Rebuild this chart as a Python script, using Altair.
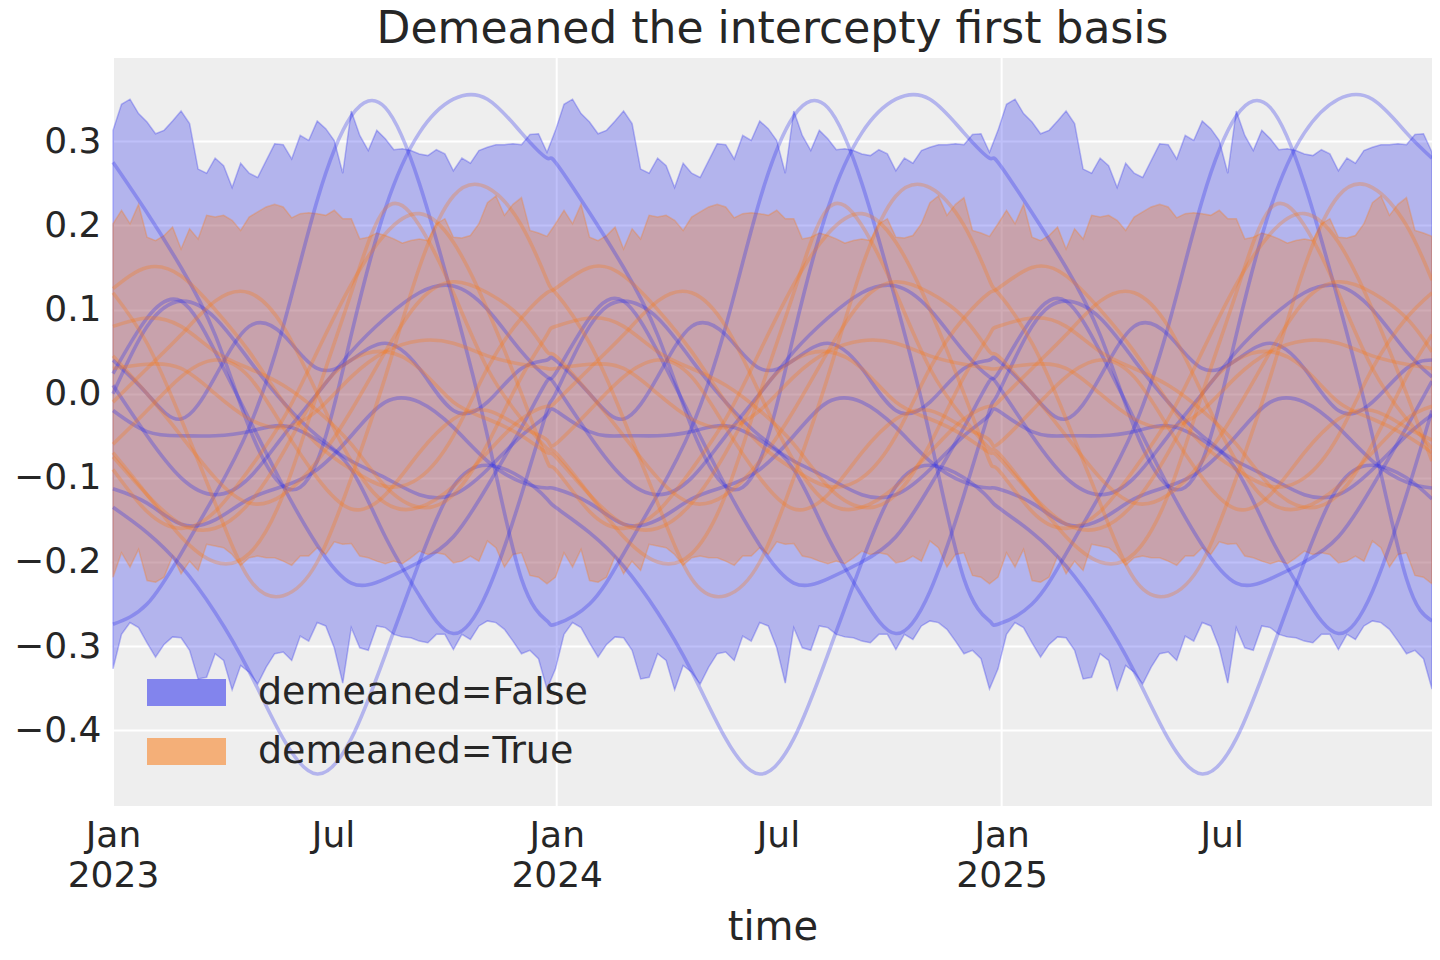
import altair as alt
import pandas as pd

# ---------------- data ----------------
WEEKS = pd.date_range("2023-01-01", periods=156, freq="7D")
GROUPS = ["demeaned=False", "demeaned=True"]
COLORS = ["#2a2eec", "#fa7c17"]

# HDI band edges, one value per week of a year (pattern repeats every year)
BLUE_HI = [0.313, 0.344, 0.350, 0.333, 0.323, 0.309, 0.313, 0.324, 0.336, 0.321,
           0.267, 0.262, 0.280, 0.271, 0.245, 0.274, 0.262, 0.257, 0.277, 0.297,
           0.296, 0.279, 0.307, 0.301, 0.324, 0.315, 0.301, 0.262, 0.336, 0.307,
           0.289, 0.313, 0.303, 0.290, 0.291, 0.289, 0.285, 0.283, 0.290, 0.285,
           0.265, 0.280, 0.274, 0.289, 0.293, 0.296, 0.296, 0.297, 0.296, 0.308,
           0.309, 0.287]
BLUE_LO = [-0.327, -0.286, -0.272, -0.278, -0.296, -0.313, -0.298, -0.289, -0.290, -0.305,
           -0.339, -0.337, -0.309, -0.317, -0.352, -0.323, -0.331, -0.345, -0.325, -0.309,
           -0.307, -0.317, -0.288, -0.294, -0.272, -0.276, -0.302, -0.344, -0.278, -0.302,
           -0.305, -0.276, -0.278, -0.286, -0.289, -0.290, -0.294, -0.296, -0.286, -0.286,
           -0.304, -0.286, -0.292, -0.276, -0.270, -0.272, -0.280, -0.294, -0.309, -0.305,
           -0.315, -0.351]
ORANGE_HI = [0.202, 0.218, 0.202, 0.225, 0.186, 0.182, 0.188, 0.198, 0.172, 0.196,
             0.184, 0.212, 0.210, 0.212, 0.206, 0.194, 0.210, 0.216, 0.222, 0.225,
             0.222, 0.209, 0.214, 0.215, 0.214, 0.212, 0.218, 0.208, 0.208, 0.184,
             0.186, 0.191, 0.188, 0.184, 0.179, 0.182, 0.184, 0.182, 0.202, 0.208,
             0.186, 0.185, 0.188, 0.202, 0.227, 0.235, 0.212, 0.225, 0.233, 0.194,
             0.191, 0.187]
ORANGE_LO = [-0.218, -0.189, -0.206, -0.185, -0.222, -0.224, -0.218, -0.193, -0.214, -0.199,
             -0.210, -0.179, -0.181, -0.183, -0.191, -0.204, -0.195, -0.193, -0.195, -0.195,
             -0.199, -0.204, -0.193, -0.193, -0.183, -0.191, -0.176, -0.179, -0.178, -0.193,
             -0.195, -0.199, -0.202, -0.199, -0.202, -0.195, -0.187, -0.191, -0.189, -0.191,
             -0.201, -0.199, -0.193, -0.199, -0.175, -0.183, -0.206, -0.191, -0.189, -0.216,
             -0.218, -0.226]

# sample curves, read at weeks 0,4,...,48,51 of a year (pattern repeats every year)
ANCHOR_WEEKS = [0, 4, 8, 12, 16, 20, 24, 28, 32, 36, 40, 44, 48, 51]
BLUE_LINES = [
    [0.275, 0.215, 0.150, 0.070, -0.040, -0.110, -0.080, 0.070, 0.220, 0.310, 0.350, 0.350, 0.310, 0.280],
    [-0.135, -0.165, -0.205, -0.260, -0.330, -0.410, -0.452, -0.410, -0.310, -0.200, -0.110, -0.085, -0.100, -0.125],
    [-0.274, -0.250, -0.190, -0.120, -0.040, 0.080, 0.230, 0.330, 0.340, 0.250, 0.110, -0.050, -0.220, -0.270],
    [0.000, 0.080, 0.110, 0.090, 0.040, -0.010, -0.050, -0.090, -0.170, -0.240, -0.285, -0.235, -0.120, -0.020],
    [0.024, 0.090, 0.110, 0.050, -0.030, -0.110, -0.180, -0.225, -0.220, -0.200, -0.170, -0.110, -0.040, 0.015],
    [0.040, 0.000, -0.030, 0.020, 0.080, 0.070, 0.030, 0.040, 0.060, 0.030, -0.020, -0.010, 0.030, 0.040],
    [0.010, -0.050, -0.100, -0.120, -0.100, -0.050, 0.000, 0.050, 0.090, 0.120, 0.128, 0.100, 0.050, 0.020],
    [-0.113, -0.130, -0.155, -0.150, -0.125, -0.110, -0.090, -0.050, -0.010, -0.010, -0.040, -0.080, -0.105, -0.112],
    [-0.020, -0.045, -0.050, -0.050, -0.045, -0.038, -0.055, -0.080, -0.100, -0.120, -0.120, -0.090, -0.050, -0.025],
]
ORANGE_LINES = [
    [0.120, 0.060, -0.030, -0.130, -0.220, -0.240, -0.200, -0.100, 0.020, 0.150, 0.235, 0.245, 0.200, 0.135],
    [0.125, 0.150, 0.140, 0.100, 0.050, -0.010, -0.060, -0.090, -0.110, -0.100, -0.050, 0.030, 0.090, 0.120],
    [-0.070, -0.120, -0.170, -0.200, -0.190, -0.120, 0.000, 0.120, 0.220, 0.200, 0.120, 0.030, -0.030, -0.065],
    [-0.090, -0.140, -0.160, -0.140, -0.090, -0.030, 0.050, 0.130, 0.190, 0.214, 0.180, 0.100, 0.000, -0.080],
    [0.045, 0.000, -0.050, -0.100, -0.130, -0.120, -0.080, -0.020, 0.050, 0.110, 0.133, 0.120, 0.090, 0.050],
    [0.030, 0.035, 0.030, 0.000, -0.030, -0.040, -0.020, 0.020, 0.050, 0.063, 0.060, 0.045, 0.035, 0.030],
    [-0.010, 0.030, 0.070, 0.110, 0.120, 0.080, 0.000, -0.080, -0.130, -0.135, -0.110, -0.070, -0.030, -0.015],
    [-0.060, -0.020, 0.020, 0.040, 0.020, -0.040, -0.100, -0.137, -0.120, -0.070, -0.030, -0.020, -0.040, -0.055],
    [-0.075, -0.120, -0.155, -0.160, -0.130, -0.070, 0.000, 0.040, 0.050, 0.030, -0.010, -0.030, -0.050, -0.070],
    [0.080, 0.090, 0.080, 0.050, 0.030, 0.010, -0.020, -0.060, -0.110, -0.135, -0.120, -0.060, 0.020, 0.070],
]

GRID_DATES = ["2023-01-01", "2024-01-01", "2025-01-01"]
X_TICKS = [(2023, 1), (2023, 7), (2024, 1), (2024, 7), (2025, 1), (2025, 7)]
Y_TICKS = [-0.4, -0.3, -0.2, -0.1, 0.0, 0.1, 0.2, 0.3]
TITLE = "Demeaned the intercepty first basis"

# ---------------- tables ----------------
band_rows = []
for g, hi, lo in [(GROUPS[0], BLUE_HI, BLUE_LO), (GROUPS[1], ORANGE_HI, ORANGE_LO)]:
    for i, d in enumerate(WEEKS):
        band_rows.append({"time": d, "group": g, "lo": lo[i % 52], "hi": hi[i % 52]})
band_df = pd.DataFrame(band_rows)

line_rows = []
for g, curves, tag in [(GROUPS[0], BLUE_LINES, "a"), (GROUPS[1], ORANGE_LINES, "b")]:
    for j, vals in enumerate(curves):
        for yr in range(3):
            for k, w in enumerate(ANCHOR_WEEKS):
                line_rows.append({"time": WEEKS[52 * yr + w], "group": g,
                                  "series": f"{tag}{j:02d}", "value": vals[k]})
line_df = pd.DataFrame(line_rows)

grid_df = pd.DataFrame({"time": pd.to_datetime(GRID_DATES)})

# ---------------- encodings ----------------
FONT = "DejaVu Sans"
TXT = "#262626"
xscale = alt.Scale(domain=[alt.DateTime(year=2023, month=1, date=1),
                           alt.DateTime(year=2025, month=12, date=21)], nice=False)
yscale = alt.Scale(domain=[-0.49, 0.399], nice=False, zero=False)
cscale = alt.Scale(domain=GROUPS, range=COLORS)

xaxis = alt.Axis(
    values=[alt.DateTime(year=y, month=m, date=1) for y, m in X_TICKS],
    labelExpr="month(datum.value) == 0 ? [timeFormat(datum.value, '%b'), timeFormat(datum.value, '%Y')] : timeFormat(datum.value, '%b')",
    labelFontSize=36, labelLineHeight=40, labelPadding=12, labelColor=TXT,
    labelFont=FONT, labelAlign="center", labelBaseline="top", labelFlush=False,
    labelOverlap=False, grid=False, domain=False, ticks=False,
    title="time", titleFontSize=40, titleFont=FONT, titleFontWeight="normal",
    titleColor=TXT, titlePadding=14,
)
yaxis = alt.Axis(
    values=Y_TICKS,
    labelExpr="replace(format(datum.value, '.1f'), '-', '\u2212')",
    labelFontSize=36, labelPadding=12, labelColor=TXT, labelFont=FONT,
    grid=True, gridColor="white", gridWidth=2, domain=False, ticks=False, title=None,
)


def X(field="time:T"):
    return alt.X(field, scale=xscale, axis=xaxis)


legend = alt.Legend(
    title=None, orient="none", legendX=34, legendY=595,
    symbolType="M-1,-0.342H1V0.342H-1Z", symbolSize=6241, symbolOpacity=0.55,
    symbolStrokeWidth=0, labelFontSize=38, labelFont=FONT, labelColor=TXT,
    labelOffset=32, labelLimit=0, rowPadding=-2, padding=0,
)

grid = alt.Chart(grid_df).mark_rule(color="white", strokeWidth=2).encode(x=X())

bands = alt.Chart(band_df).mark_area(fillOpacity=0.3, strokeOpacity=0.3, strokeWidth=1.5).encode(
    x=X(),
    y=alt.Y("lo:Q", scale=yscale, axis=yaxis),
    y2="hi:Q",
    color=alt.Color("group:N", scale=cscale, legend=legend),
    stroke=alt.Stroke("group:N", scale=cscale, legend=None),
)

lines = alt.Chart(line_df).mark_line(strokeWidth=3.6, opacity=0.3, interpolate="natural").encode(
    x=X(),
    y=alt.Y("value:Q", scale=yscale, axis=yaxis),
    color=alt.Color("group:N", scale=cscale, legend=None),
    detail="series:N",
)

chart = (
    alt.layer(grid, bands, lines)
    .resolve_legend(color="independent", stroke="independent")
    .properties(
        width=1319, height=748,
        title=alt.Title(TITLE, fontSize=44, font=FONT, fontWeight="normal",
                        color=TXT, anchor="middle", offset=5),
        autosize=alt.AutoSizeParams(type="none"),
        padding={"left": 105, "top": 50, "right": 0, "bottom": 150},
    )
    .configure_view(fill="#eeeeee", strokeWidth=0)
)

chart.save("out.html", embed_options={"renderer": "svg", "actions": False})
